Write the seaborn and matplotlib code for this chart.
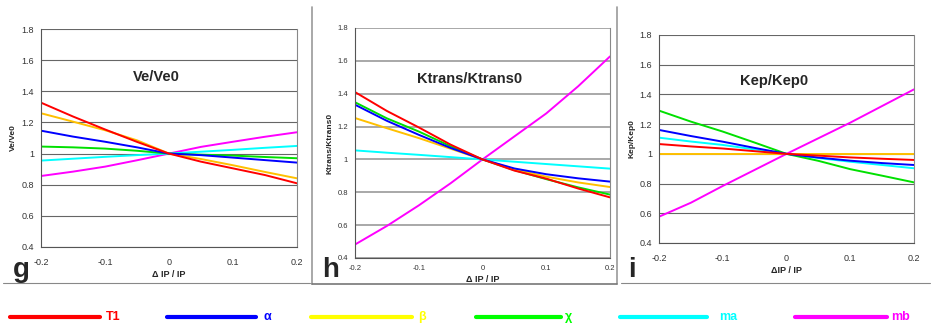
import numpy as np
import pandas as pd
import matplotlib
matplotlib.use("Agg")
import matplotlib.pyplot as plt
import seaborn as sns
from matplotlib.lines import Line2D
from matplotlib.ticker import FuncFormatter

# x grid (relative change of input parameter)
dip = [-0.2, -0.15, -0.1, -0.05, 0.0, 0.05, 0.1, 0.15, 0.2]
series = ["T1", "α", "β", "χ", "ma", "mb"]

# Ve/Ve0 panel (g)
ve_T1 = [1.327, 1.238, 1.155, 1.075, 1.0, 0.948, 0.905, 0.862, 0.809]
ve_alpha = [1.147, 1.109, 1.076, 1.04, 1.0, 0.99, 0.974, 0.958, 0.942]
ve_beta = [1.259, 1.205, 1.15, 1.085, 1.0, 0.965, 0.925, 0.882, 0.841]
ve_chi = [1.045, 1.04, 1.032, 1.018, 1.0, 0.993, 0.987, 0.978, 0.970]
ve_ma = [0.955, 0.967, 0.979, 0.99, 1.0, 1.012, 1.024, 1.037, 1.049]
ve_mb = [0.856, 0.884, 0.916, 0.957, 1.0, 1.043, 1.076, 1.108, 1.137]

# Ktrans/Ktrans0 panel (h)
kt_T1 = [1.41, 1.295, 1.195, 1.09, 1.0, 0.932, 0.883, 0.823, 0.769]
kt_alpha = [1.333, 1.235, 1.15, 1.07, 1.0, 0.945, 0.91, 0.885, 0.865]
kt_beta = [1.252, 1.19, 1.13, 1.065, 1.0, 0.94, 0.895, 0.86, 0.832]
kt_chi = [1.348, 1.25, 1.17, 1.08, 1.0, 0.935, 0.88, 0.83, 0.786]
kt_ma = [1.055, 1.041, 1.028, 1.014, 1.0, 0.986, 0.972, 0.958, 0.944]
kt_mb = [0.482, 0.595, 0.72, 0.855, 1.0, 1.14, 1.28, 1.445, 1.627]

# Kep/Kep0 panel (i)
kp_T1 = [1.066, 1.05, 1.036, 1.018, 1.0, 0.988, 0.976, 0.967, 0.959]
kp_alpha = [1.161, 1.12, 1.082, 1.04, 1.0, 0.975, 0.954, 0.938, 0.925]
kp_beta = [1.0, 1.0, 1.0, 1.0, 1.0, 1.0, 1.0, 1.0, 1.0]
kp_chi = [1.291, 1.217, 1.15, 1.076, 1.0, 0.953, 0.897, 0.853, 0.808]
kp_ma = [1.109, 1.083, 1.06, 1.03, 1.0, 0.972, 0.947, 0.925, 0.903]
kp_mb = [0.577, 0.671, 0.784, 0.892, 1.0, 1.105, 1.21, 1.322, 1.434]

line_colors = ["#ff0000", "#0000ff", "#ffc000", "#00e000", "#00ffff", "#ff00ff"]
legend_colors = ["#ff0000", "#0000ff", "#ffff00", "#00ff00", "#00ffff", "#ff00ff"]


def long_frame(cols):
    rows = []
    for name, vals in zip(series, cols):
        for x, y in zip(dip, vals):
            rows.append({"dIP": x, "ratio": y, "param": name})
    return pd.DataFrame(rows)


# title, ylabel, xlabel, data, axes rect, tick font, x tick pad, grid colour, grid width
panels = [
    ("Ve/Ve0", "Ve/Ve0", "Δ IP / IP",
     [ve_T1, ve_alpha, ve_beta, ve_chi, ve_ma, ve_mb],
     [41 / 934, 1 - 247 / 325, 256 / 934, 218 / 325], 6.5, 8, "#666666", 0.8),
    ("Ktrans/Ktrans0", "Ktrans/Ktrans0", "Δ IP / IP",
     [kt_T1, kt_alpha, kt_beta, kt_chi, kt_ma, kt_mb],
     [355 / 934, 1 - 258 / 325, 255 / 934, 230 / 325], 5.5, 5, "#999999", 1.2),
    ("Kep/Kep0", "Kep/Kep0", "ΔIP / IP",
     [kp_T1, kp_alpha, kp_beta, kp_chi, kp_ma, kp_mb],
     [659 / 934, 1 - 243 / 325, 255 / 934, 208 / 325], 6.5, 8, "#666666", 0.8),
]

sns.set_theme(style="white")
plt.rcParams["font.family"] = ["Liberation Sans", "DejaVu Sans"]

fig = plt.figure(figsize=(9.34, 3.25), dpi=100)
palette = dict(zip(series, line_colors))

for title, ylab, xlab, cols, rect, tfs, pad, gcol, gw in panels:
    ax = fig.add_axes(rect)
    df = long_frame(cols)
    sns.lineplot(data=df, x="dIP", y="ratio", hue="param", palette=palette,
                 linewidth=1.4, legend=False, ax=ax, hue_order=series[::-1])
    ax.set_xlim(-0.2, 0.2)
    ax.set_ylim(0.4, 1.8)
    ax.set_xticks([-0.2, -0.1, 0, 0.1, 0.2])
    ax.set_yticks(np.arange(0.4, 1.81, 0.2))
    ax.xaxis.set_major_formatter(FuncFormatter(lambda v, p: f"{v:g}"))
    ax.yaxis.set_major_formatter(FuncFormatter(lambda v, p: f"{round(v, 1):g}"))
    ax.yaxis.grid(True, color=gcol, linewidth=gw)
    ax.set_axisbelow(True)
    for s in ["left", "bottom"]:
        ax.spines[s].set_color("#555555")
        ax.spines[s].set_linewidth(0.8)
    ax.spines["top"].set_visible(False)
    ax.spines["right"].set_color("#888888")
    ax.spines["right"].set_linewidth(0.8)
    ax.tick_params(axis="both", direction="out", length=3, width=0.6,
                   color="#555555", labelsize=tfs, labelcolor="#333333", pad=2)
    ax.tick_params(axis="x", pad=pad, length=0)
    ax.set_ylabel(ylab, fontsize=6, fontweight="bold", labelpad=3)
    ax.set_xlabel(xlab, fontsize=6.5, fontweight="bold", labelpad=2)
    ax.text(-0.02, 1.49, title, fontsize=10.5, fontweight="bold", ha="center", va="center")

# panel letters
fig.text(13 / 934, 1 - 277 / 325, "g", fontsize=20, fontweight="bold", va="baseline")
fig.text(322 / 934, 1 - 277 / 325, "h", fontsize=20, fontweight="bold", va="baseline")
fig.text(628 / 934, 1 - 277 / 325, "i", fontsize=20, fontweight="bold", va="baseline")

# page frame lines around the panels
fig.add_artist(Line2D([312 / 934, 312 / 934], [1 - 7 / 325, 1 - 284 / 325], color="#999999", lw=1.2))
fig.add_artist(Line2D([617 / 934, 617 / 934], [1 - 7 / 325, 1 - 284 / 325], color="#999999", lw=1.2))
fig.add_artist(Line2D([312 / 934, 617 / 934], [1 - 284 / 325, 1 - 284 / 325], color="#777777", lw=1.2))
fig.add_artist(Line2D([3 / 934, 310 / 934], [1 - 283 / 325, 1 - 283 / 325], color="#888888", lw=0.8))
fig.add_artist(Line2D([621 / 934, 930 / 934], [1 - 283 / 325, 1 - 283 / 325], color="#888888", lw=0.8))

# legend row along the bottom
leg_x = [(10, 100, 106), (167, 256, 264), (311, 412, 418), (476, 561, 565), (620, 707, 719), (795, 887, 891)]
for name, col, (x0, x1, xt) in zip(series, legend_colors, leg_x):
    yy = 1 - 317 / 325
    fig.add_artist(Line2D([x0 / 934, x1 / 934], [yy, yy], color=col, lw=3))
    fig.text(xt / 934, yy, name, color=col, fontsize=9, fontweight="bold", va="center")

fig.savefig("out.png", dpi=100)
